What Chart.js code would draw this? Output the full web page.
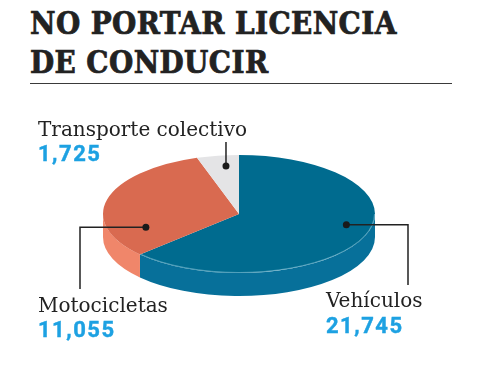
<!DOCTYPE html>
<html lang="es">
<head>
<meta charset="utf-8">
<script src="https://cdn.jsdelivr.net/npm/chart.js@4.4.1/dist/chart.umd.min.js"></script>
<style>
  html, body { margin: 0; padding: 0; background: #fff; }
  #wrap { position: relative; width: 477px; height: 375px; overflow: hidden; }
  #pie { position: absolute; left: 0; top: 0; }
  .title {
    position: absolute; left: 30px; top: 4px; margin: 0;
    font-family: "DejaVu Serif Condensed", "DejaVu Serif", serif;
    font-stretch: condensed;
    font-weight: bold; font-size: 31px; line-height: 39px; color: #222;
    letter-spacing: 0.4px;
    -webkit-text-stroke: 0.7px #222;
    white-space: nowrap;
  }
  .rule { position: absolute; left: 30px; top: 83px; width: 422px; height: 0; border-top: 1.5px solid #3a3a3a; }
  .name, .value { position: absolute; white-space: nowrap; }
  .name { font-family: "DejaVu Serif", serif; font-size: 20px; line-height: 20px; color: #222; }
  .value { font-family: Roboto, sans-serif; font-weight: bold; font-size: 22px; line-height: 22px; letter-spacing: 1.5px; color: #1da1e2; -webkit-text-stroke: 0.4px #1da1e2; }
</style>
</head>
<body>
<div id="wrap">
  <h1 class="title">NO PORTAR LICENCIA<br>DE CONDUCIR</h1>
  <div class="rule"></div>
  <canvas id="pie" width="477" height="375"></canvas>
  <div class="name" id="name0" style="left:326px; top:290px;"></div>
  <div class="value" id="val0" style="left:326px; top:314.5px;"></div>
  <div class="name" id="name1" style="left:38px; top:295px;"></div>
  <div class="value" id="val1" style="left:38px; top:318.5px;"></div>
  <div class="name" id="name2" style="left:38px; top:119px;"></div>
  <div class="value" id="val2" style="left:38px; top:143px;"></div>
</div>
<script>
const categories = ['Vehículos', 'Motocicletas', 'Transporte colectivo'];
const values = [21745, 11055, 1725];

const topColors = ['#006b8f', '#d96a50', '#e4e4e6'];
const sideColors = ['#07709a', '#f0866a', '#cfcfd2'];
const TILT = 0.434;   // vertical squash of the pie
const DEPTH = 23;     // thickness of the pie in px

// where each leader line starts (angle clockwise from top, fraction of radius) and how it runs
const callouts = [
  { angle: 103, frac: 0.81, elbowX: 408, endY: 285 },
  { angle: 252, frac: 0.72, elbowX: 80, endY: 289 },
  { angle: 353.3, frac: 0.82, elbowX: null, endY: 142 }
];

// labels
categories.forEach((c, i) => {
  document.getElementById('name' + i).textContent = c;
  document.getElementById('val' + i).textContent = values[i].toLocaleString('en-US');
});

function frontSegments(s, e) {
  const out = [];
  for (let k = -1; k <= 1; k++) {
    const lo = Math.max(s, 2 * Math.PI * k);
    const hi = Math.min(e, 2 * Math.PI * k + Math.PI);
    if (hi > lo) out.push([lo, hi]);
  }
  return out;
}

const pie3d = {
  id: 'pie3d',
  beforeDatasetsDraw(chart) {
    const ctx = chart.ctx;
    const arcs = chart.getDatasetMeta(0).data;
    const cx = arcs[0].x, cy = arcs[0].y, r = arcs[0].outerRadius;
    const ry = r * TILT;
    ctx.save();
    arcs.forEach((arc, i) => {
      frontSegments(arc.startAngle, arc.endAngle).forEach(([a, b]) => {
        ctx.beginPath();
        ctx.ellipse(cx, cy, r, ry, 0, a, b);
        ctx.ellipse(cx, cy + DEPTH, r, ry, 0, b, a, true);
        ctx.closePath();
        ctx.fillStyle = sideColors[i];
        ctx.fill();
      });
    });
    ctx.restore();
    // squash the flat pie into an ellipse
    ctx.save();
    ctx.translate(cx, cy);
    ctx.scale(1, TILT);
    ctx.translate(-cx, -cy);
  },
  afterDatasetsDraw(chart) {
    const ctx = chart.ctx;
    ctx.restore();
    const arcs = chart.getDatasetMeta(0).data;
    const cx = arcs[0].x, cy = arcs[0].y, r = arcs[0].outerRadius;
    const ry = r * TILT;

    // light rim on the blue slice
    ctx.save();
    ctx.strokeStyle = 'rgba(150,205,225,0.55)';
    ctx.lineWidth = 1;
    frontSegments(arcs[0].startAngle, arcs[0].endAngle).forEach(([a, b]) => {
      ctx.beginPath();
      ctx.ellipse(cx, cy, r - 0.5, ry - 0.5, 0, a, b);
      ctx.stroke();
    });

    // leader lines and dots
    ctx.strokeStyle = '#222';
    ctx.fillStyle = '#1a1a1a';
    ctx.lineWidth = 1.5;
    callouts.forEach(c => {
      const a = (c.angle - 90) * Math.PI / 180;
      const px = cx + c.frac * r * Math.cos(a);
      const py = cy + c.frac * ry * Math.sin(a);
      ctx.beginPath();
      ctx.moveTo(px, py);
      if (c.elbowX !== null) {
        ctx.lineTo(c.elbowX, py);
        ctx.lineTo(c.elbowX, c.endY);
      } else {
        ctx.lineTo(px, c.endY);
      }
      ctx.stroke();
      ctx.beginPath();
      ctx.arc(px, py, 3.5, 0, Math.PI * 2);
      ctx.fill();
    });
    ctx.restore();
  }
};

const ctx = document.getElementById('pie').getContext('2d');
const pieChart = new Chart(ctx, {
  type: 'pie',
  data: {
    labels: categories,
    datasets: [{
      data: values,
      backgroundColor: topColors,
      borderWidth: 0,
      clip: false
    }]
  },
  options: {
    responsive: false,
    animation: false,
    devicePixelRatio: 1,
    events: [],
    layout: { padding: { left: 103, right: 102, top: 78, bottom: 25 } },
    plugins: {
      legend: { display: false },
      tooltip: { enabled: false }
    }
  },
  plugins: [pie3d]
});
</script>
</body>
</html>
